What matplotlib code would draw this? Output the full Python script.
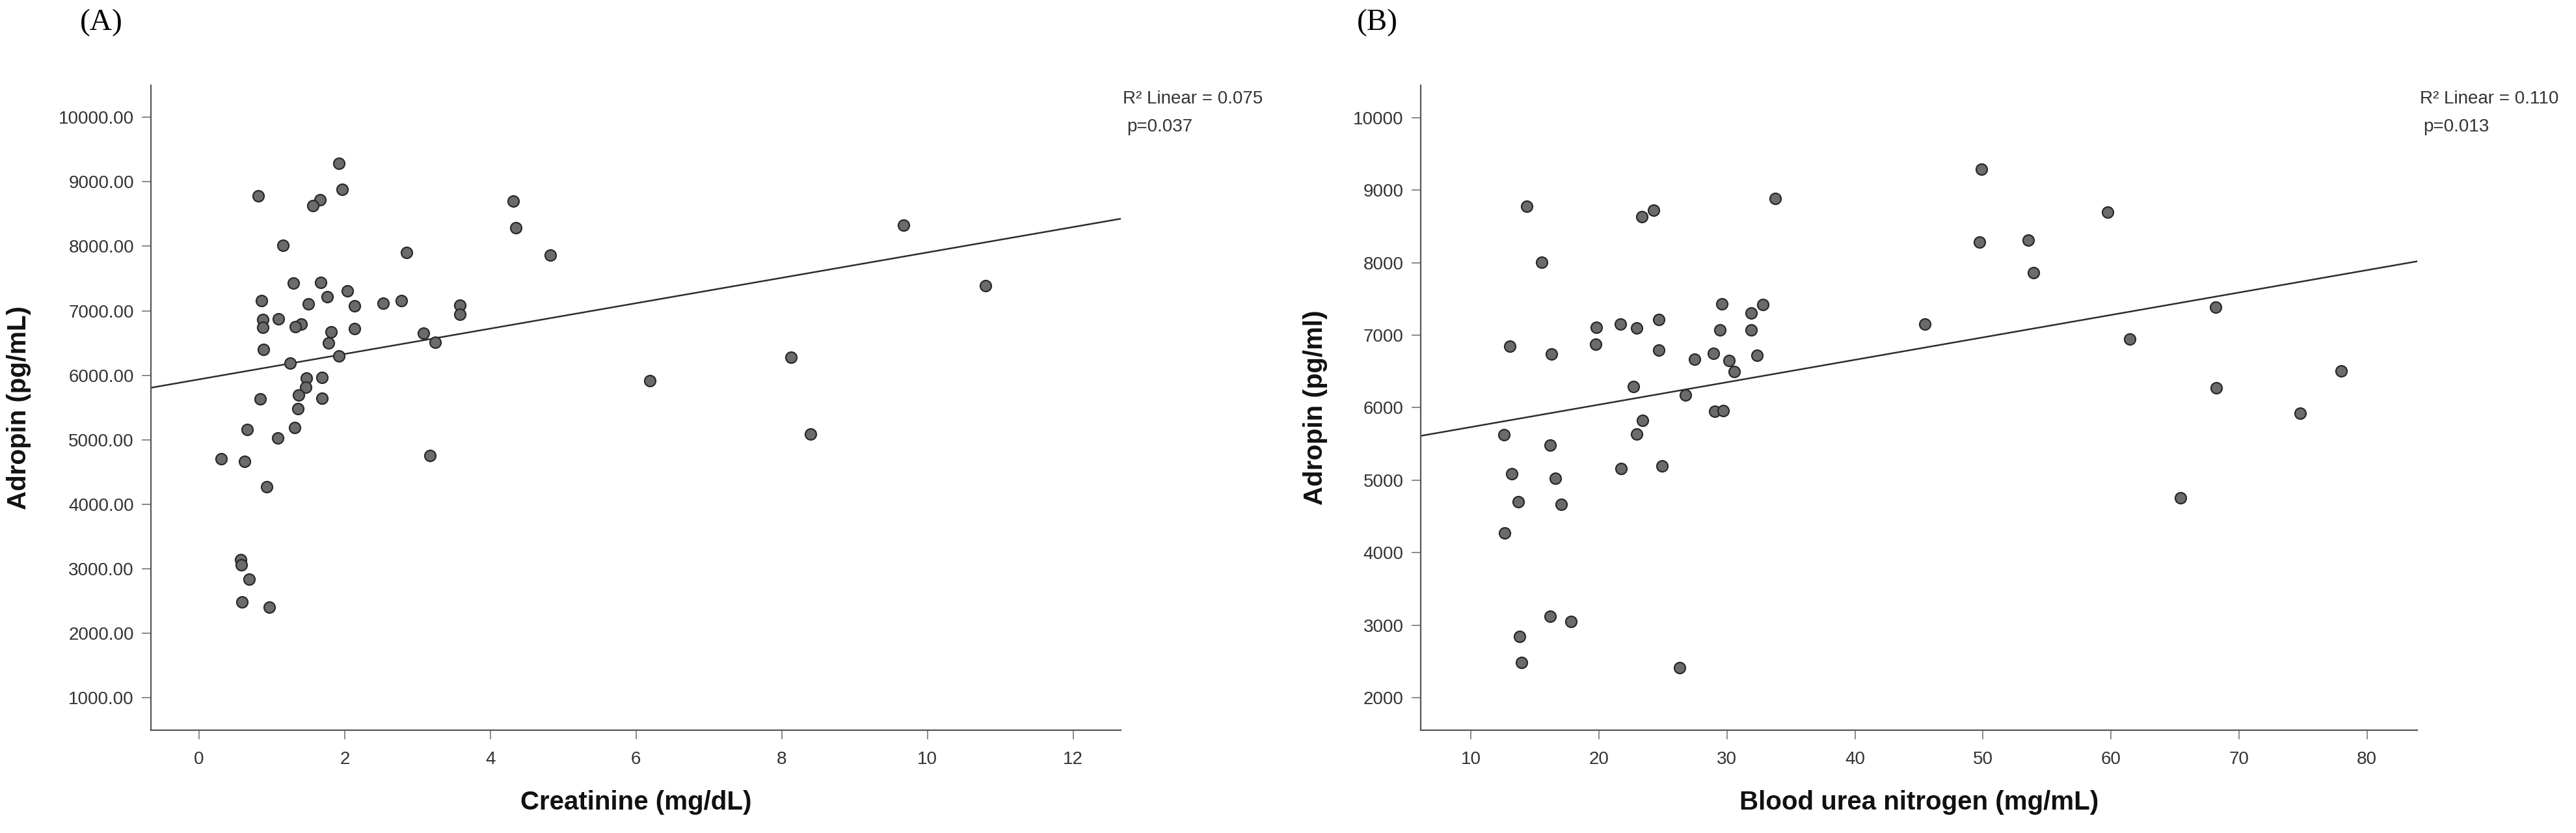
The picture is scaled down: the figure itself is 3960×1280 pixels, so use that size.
"""Adropin vs. renal markers: two SPSS-style scatter plots with linear fit."""

import matplotlib

matplotlib.use("Agg")
import matplotlib.pyplot as plt
import numpy as np
from matplotlib.ticker import FormatStrFormatter

plt.rcParams["font.family"] = ["Liberation Sans", "DejaVu Sans"]

# Panel A: creatinine (mg/dL) vs adropin (pg/mL)
creatinine = [
    1.92, 1.96, 0.81, 1.66, 1.56, 4.31, 4.35, 9.67, 1.15, 2.85,
    4.82, 1.29, 1.67, 10.80, 2.04, 1.76, 0.86, 2.78, 1.50, 2.53,
    2.13, 3.58, 3.58, 1.09, 0.87, 0.87, 1.40, 1.32, 2.13, 1.81,
    3.08, 1.78, 3.24, 0.88, 1.92, 1.25, 8.13, 1.47, 1.69, 6.19,
    1.46, 1.37, 0.84, 1.69, 1.36, 0.66, 1.31, 1.08, 8.40, 0.30,
    0.62, 3.17, 0.93, 0.57, 0.58, 0.69, 0.59, 0.96,
]
adropin_a = [
    9285, 8878, 8781, 8723, 8633, 8698, 8286, 8325, 8010, 7900,
    7862, 7431, 7440, 7392, 7312, 7219, 7154, 7155, 7107, 7112,
    7080, 7083, 6941, 6875, 6866, 6741, 6790, 6756, 6722, 6676,
    6650, 6504, 6510, 6400, 6300, 6187, 6280, 5957, 5962, 5920,
    5818, 5699, 5635, 5640, 5487, 5164, 5186, 5026, 5090, 4708,
    4669, 4756, 4276, 3148, 3058, 2839, 2486, 2408,
]

# Panel B: blood urea nitrogen (mg/mL) vs adropin (pg/ml)
bun = [
    49.90, 33.78, 14.35, 24.25, 23.37, 59.74, 49.74, 53.52, 15.54, 53.94,
    29.59, 32.80, 31.92, 68.19, 24.66, 21.66, 19.79, 22.95, 29.48, 31.92,
    45.44, 61.45, 13.06, 19.74, 16.32, 24.66, 27.46, 28.96, 30.16, 32.33,
    30.57, 77.98, 22.69, 26.74, 68.24, 29.07, 29.69, 74.77, 23.42, 12.59,
    22.95, 16.22, 24.92, 21.71, 13.21, 16.58, 13.68, 17.05, 65.44, 12.64,
    16.22, 17.82, 13.83, 13.94, 26.32,
]
adropin_b = [
    9286, 8886, 8777, 8720, 8629, 8697, 8286, 8314, 8006, 7857,
    7434, 7423, 7303, 7383, 7211, 7149, 7109, 7097, 7074, 7069,
    7154, 6943, 6851, 6874, 6737, 6789, 6669, 6749, 6651, 6720,
    6497, 6509, 6291, 6177, 6274, 5949, 5960, 5920, 5823, 5629,
    5634, 5486, 5194, 5160, 5091, 5023, 4703, 4663, 4754, 4274,
    3126, 3051, 2846, 2486, 2411,
]

stats_a = ["R\u00b2 Linear = 0.075", "p=0.037"]
stats_b = ["R\u00b2 Linear = 0.110", "p=0.013"]

POINT_FACE = "#6b6b6b"
POINT_EDGE = "#2a2a2a"
AXIS_GREY = "#555555"
TICK_GREY = "#8a8a8a"
TEXT_GREY = "#333333"


def draw_panel(ax, x, y, xlim, ylim, xticks, yticks, yfmt, xlabel, ylabel,
               stats, ylabel_x):
    x = np.asarray(x, dtype=float)
    y = np.asarray(y, dtype=float)
    ax.scatter(x, y, s=150, facecolor=POINT_FACE, edgecolor=POINT_EDGE,
               linewidth=1.6, zorder=3)

    # SPSS fit line spans the whole x range of the axis
    slope, intercept = np.polyfit(x, y, 1)
    line_x = np.array(xlim)
    ax.plot(line_x, intercept + slope * line_x, color="#2e2e2e",
            linewidth=1.8, zorder=2)

    ax.set_xlim(*xlim)
    ax.set_ylim(*ylim)
    ax.set_xticks(xticks)
    ax.set_yticks(yticks)
    ax.yaxis.set_major_formatter(FormatStrFormatter(yfmt))

    for side in ("top", "right"):
        ax.spines[side].set_visible(False)
    for side in ("left", "bottom"):
        ax.spines[side].set_color(AXIS_GREY)
        ax.spines[side].set_linewidth(1.6)
    ax.tick_params(direction="out", length=10, width=1.4, color=TICK_GREY,
                   labelsize=20, labelcolor=TEXT_GREY)
    ax.tick_params(axis="x", pad=13)
    ax.tick_params(axis="y", pad=8.5)

    ax.set_xlabel(xlabel, fontsize=29, fontweight="bold", color="#111111")
    ax.set_ylabel(ylabel, fontsize=29, fontweight="bold", color="#111111")
    ax.xaxis.set_label_coords(0.5, -0.093)
    # rotated label: this x is the right-hand edge of the text
    ax.yaxis.set_label_coords(ylabel_x, 0.5)

    ax.text(1.002, 0.978, stats[0], transform=ax.transAxes, fontsize=20,
            color=TEXT_GREY, ha="left", va="center")
    ax.text(1.006, 0.935, stats[1], transform=ax.transAxes, fontsize=20,
            color=TEXT_GREY, ha="left", va="center")


fig = plt.figure(figsize=(39.6, 12.8), dpi=100)
ax_a = fig.add_axes([0.0585, 0.1234, 0.3767, 0.7746])
ax_b = fig.add_axes([0.5514, 0.1233, 0.3871, 0.7747])

draw_panel(ax_a, creatinine, adropin_a, (-0.665, 12.66), (500, 10500),
           range(0, 13, 2), range(1000, 10001, 1000), "%.2f",
           "Creatinine (mg/dL)", "Adropin (pg/mL)", stats_a, -0.123)
draw_panel(ax_b, bun, adropin_b, (6.06, 83.95), (1550, 10450),
           range(10, 81, 10), range(2000, 10001, 1000), "%d",
           "Blood urea nitrogen (mg/mL)", "Adropin (pg/ml)", stats_b, -0.093)

fig.text(0.0394, 0.973, "(A)", family="Liberation Serif", fontsize=34,
         ha="center", va="center")
fig.text(0.5346, 0.973, "(B)", family="Liberation Serif", fontsize=34,
         ha="center", va="center")

fig.savefig("out.png", dpi=100, facecolor="white")
plt.close(fig)
